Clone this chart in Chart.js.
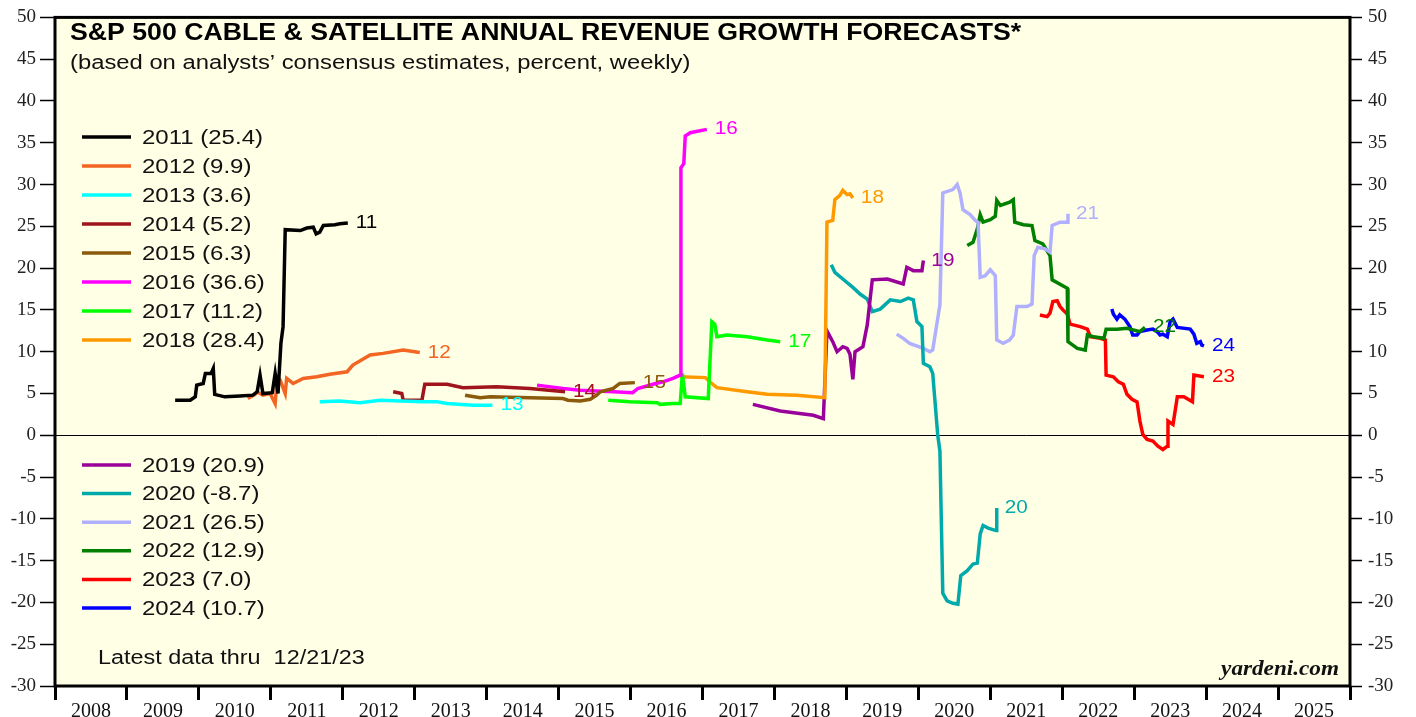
<!DOCTYPE html>
<html>
<head>
<meta charset="utf-8">
<title>S&amp;P 500 Cable &amp; Satellite Revenue Growth Forecasts</title>
<script src="https://cdn.jsdelivr.net/npm/chart.js@4.4.1/dist/chart.umd.min.js"></script>
<style>
  body { margin: 0; background: #fff; }
  #wrap { width: 1416px; height: 717px; }
</style>
</head>
<body>
<div id="wrap"><canvas id="myChart" width="1416" height="717"></canvas></div>
<script>
'use strict';

// forecast years, final values (legend) and colours
let seriesNames = ['2011', '2012', '2013', '2014', '2015', '2016', '2017', '2018', '2019', '2020', '2021', '2022', '2023', '2024'];
let finalValues = ['25.4', '9.9', '3.6', '5.2', '6.3', '36.6', '11.2', '28.4', '20.9', '-8.7', '26.5', '12.9', '7.0', '10.7'];
let seriesColors = ['#000000', '#F26522', '#00FFFF', '#A0151C', '#8B5A0B', '#FF00FF', '#00FF00', '#FF9900', '#990099', '#00AAAA', '#B0B0FF', '#008000', '#FF0000', '#0000FF'];

// y axis tick labels
let yTicks = [50, 45, 40, 35, 30, 25, 20, 15, 10, 5, 0, -5, -10, -15, -20, -25, -30];
// x axis: years shown
let firstYear = 2008;
let lastYear = 2026;

// weekly consensus forecasts, [time in years, percent]
let rev2011 = [[2009.67, 4.2], [2009.88, 4.2], [2009.95, 4.6], [2009.97, 6.0], [2010.06, 6.2], [2010.09, 7.4], [2010.17, 7.4], [2010.20, 8.0], [2010.22, 4.9], [2010.36, 4.6], [2010.57, 4.7], [2010.75, 4.8], [2010.81, 5.2], [2010.85, 7.2], [2010.89, 5.0], [2011.02, 5.1], [2011.06, 7.4], [2011.10, 5.0], [2011.14, 11.0], [2011.17, 13.0], [2011.20, 24.6], [2011.41, 24.5], [2011.50, 24.8], [2011.59, 24.9], [2011.63, 24.1], [2011.68, 24.3], [2011.73, 25.1], [2011.89, 25.2], [2011.96, 25.3], [2012.07, 25.4]];
let rev2012 = [[2010.68, 4.4], [2010.78, 4.9], [2010.81, 5.2], [2010.89, 4.8], [2010.99, 5.0], [2011.06, 3.8], [2011.09, 7.0], [2011.13, 6.6], [2011.20, 5.0], [2011.22, 6.8], [2011.31, 6.2], [2011.45, 6.8], [2011.64, 7.0], [2011.82, 7.3], [2012.06, 7.6], [2012.14, 8.4], [2012.38, 9.6], [2012.56, 9.8], [2012.84, 10.2], [2013.07, 9.9]];
let rev2013 = [[2011.68, 4.0], [2011.96, 4.1], [2012.24, 3.9], [2012.52, 4.2], [2012.80, 4.1], [2013.12, 4.0], [2013.31, 4.0], [2013.45, 3.8], [2013.81, 3.6], [2014.08, 3.6]];
let rev2014 = [[2012.70, 5.2], [2012.82, 5.0], [2012.84, 4.2], [2013.10, 4.2], [2013.14, 6.1], [2013.45, 6.1], [2013.67, 5.7], [2014.14, 5.8], [2014.60, 5.6], [2015.09, 5.2]];
let rev2015 = [[2013.70, 4.8], [2013.91, 4.5], [2014.05, 4.6], [2014.60, 4.5], [2015.06, 4.4], [2015.13, 4.2], [2015.30, 4.1], [2015.44, 4.3], [2015.53, 4.8], [2015.58, 5.2], [2015.76, 5.6], [2015.85, 6.2], [2016.06, 6.3]];
let rev2016 = [[2014.70, 6.0], [2015.06, 5.6], [2015.30, 5.4], [2015.76, 5.2], [2016.03, 5.1], [2016.10, 5.6], [2016.31, 6.1], [2016.45, 6.4], [2016.59, 6.8], [2016.69, 7.2], [2016.70, 32.0], [2016.74, 32.5], [2016.76, 35.8], [2016.83, 36.2], [2017.06, 36.6]];
let rev2017 = [[2015.69, 4.2], [2015.99, 4.0], [2016.37, 3.9], [2016.41, 3.7], [2016.59, 3.8], [2016.69, 3.8], [2016.72, 7.4], [2016.76, 4.6], [2017.08, 4.4], [2017.13, 13.6], [2017.17, 13.3], [2017.20, 11.8], [2017.34, 12.0], [2017.62, 11.8], [2017.90, 11.4], [2018.08, 11.2]];
let rev2018 = [[2016.69, 7.0], [2017.04, 6.9], [2017.10, 6.4], [2017.20, 5.7], [2017.62, 5.2], [2017.90, 4.9], [2018.31, 4.8], [2018.70, 4.5], [2018.73, 25.5], [2018.81, 25.7], [2018.84, 28.2], [2018.91, 28.7], [2018.95, 29.3], [2019.01, 28.8], [2019.05, 28.9], [2019.09, 28.4]];
let rev2019 = [[2017.70, 3.7], [2018.08, 2.9], [2018.54, 2.4], [2018.68, 2.0], [2018.73, 12.5], [2018.81, 11.2], [2018.87, 10.0], [2018.95, 10.6], [2019.01, 10.4], [2019.05, 9.7], [2019.09, 6.7], [2019.12, 10.0], [2019.23, 10.6], [2019.29, 13.2], [2019.36, 18.6], [2019.57, 18.7], [2019.79, 18.1], [2019.84, 20.1], [2019.93, 19.7], [2020.05, 19.7], [2020.07, 20.9]];
let rev2020 = [[2018.79, 20.4], [2018.84, 19.5], [2018.95, 18.7], [2019.09, 17.7], [2019.19, 16.9], [2019.29, 16.3], [2019.36, 14.8], [2019.47, 15.1], [2019.61, 16.2], [2019.75, 16.0], [2019.86, 16.4], [2019.93, 16.2], [2019.98, 13.6], [2020.05, 13.0], [2020.07, 8.6], [2020.16, 8.2], [2020.20, 7.4], [2020.27, 0.0], [2020.30, -1.9], [2020.34, -18.9], [2020.40, -19.8], [2020.48, -20.1], [2020.55, -20.2], [2020.59, -16.8], [2020.68, -16.2], [2020.76, -15.4], [2020.82, -15.3], [2020.86, -11.8], [2020.90, -10.8], [2020.97, -11.1], [2021.08, -11.4], [2021.09, -8.7]];
let rev2021 = [[2019.70, 12.1], [2019.79, 11.6], [2019.88, 11.0], [2020.07, 10.4], [2020.16, 10.0], [2020.20, 10.2], [2020.30, 15.6], [2020.34, 29.0], [2020.48, 29.4], [2020.54, 30.0], [2020.58, 29.0], [2020.62, 27.0], [2020.72, 26.4], [2020.79, 25.7], [2020.83, 25.5], [2020.86, 18.9], [2020.93, 19.1], [2021.00, 19.8], [2021.07, 19.1], [2021.09, 11.4], [2021.18, 11.0], [2021.27, 11.4], [2021.32, 12.0], [2021.37, 15.4], [2021.51, 15.4], [2021.58, 15.7], [2021.61, 21.5], [2021.66, 22.5], [2021.76, 22.3], [2021.83, 21.9], [2021.86, 25.1], [2021.97, 25.5], [2022.07, 25.5], [2022.08, 26.5]];
let rev2022 = [[2020.68, 22.7], [2020.76, 23.1], [2020.82, 24.7], [2020.86, 26.4], [2020.90, 25.5], [2021.00, 25.8], [2021.07, 26.2], [2021.09, 28.1], [2021.14, 27.5], [2021.27, 27.9], [2021.32, 28.2], [2021.34, 25.5], [2021.46, 25.2], [2021.58, 25.1], [2021.62, 23.3], [2021.73, 22.9], [2021.83, 21.5], [2021.86, 18.6], [2022.07, 17.6], [2022.08, 11.2], [2022.21, 10.4], [2022.32, 10.2], [2022.35, 12.0], [2022.43, 11.8], [2022.58, 11.6], [2022.61, 12.7], [2022.76, 12.7], [2022.90, 12.8], [2023.08, 12.4], [2023.15, 12.9]];
let rev2023 = [[2021.69, 14.4], [2021.79, 14.2], [2021.83, 14.6], [2021.87, 16.0], [2021.93, 16.1], [2021.97, 15.4], [2022.01, 15.0], [2022.07, 14.5], [2022.11, 13.3], [2022.25, 13.0], [2022.35, 12.7], [2022.39, 11.8], [2022.53, 11.6], [2022.60, 11.4], [2022.61, 7.2], [2022.71, 7.0], [2022.78, 6.4], [2022.85, 6.1], [2022.90, 4.9], [2022.97, 4.3], [2023.04, 4.0], [2023.08, 1.7], [2023.12, 0.1], [2023.18, -0.5], [2023.26, -0.7], [2023.33, -1.3], [2023.40, -1.7], [2023.46, -1.3], [2023.47, 1.7], [2023.54, 1.3], [2023.60, 4.6], [2023.69, 4.6], [2023.81, 4.0], [2023.83, 7.2], [2023.97, 7.0]];
let rev2024 = [[2022.69, 15.1], [2022.71, 14.5], [2022.76, 13.9], [2022.80, 14.4], [2022.87, 13.9], [2022.94, 13.0], [2022.98, 12.0], [2023.04, 12.0], [2023.08, 12.4], [2023.18, 12.6], [2023.26, 12.7], [2023.32, 12.4], [2023.36, 12.0], [2023.40, 12.1], [2023.46, 11.8], [2023.50, 13.6], [2023.54, 13.9], [2023.60, 12.9], [2023.78, 12.7], [2023.83, 12.1], [2023.87, 11.0], [2023.92, 11.2], [2023.94, 10.8], [2023.97, 10.7]];

let allSeries = [rev2011, rev2012, rev2013, rev2014, rev2015, rev2016, rev2017, rev2018, rev2019, rev2020, rev2021, rev2022, rev2023, rev2024];

const SANS = '"Liberation Sans", Arial, sans-serif';
const SERIF = '"Liberation Serif", "Times New Roman", serif';

let ctx = document.getElementById('myChart').getContext('2d');

let datasets = [];
for (let i = 0; i < allSeries.length; i++) {
  datasets.push({
    label: seriesNames[i],
    data: allSeries[i].map(p => ({ x: p[0], y: p[1] })),
    borderColor: seriesColors[i],
    borderWidth: 3.5,
    pointRadius: 0,
    tension: 0,
    fill: false
  });
}

// the original lettering is a bit wider than Arial, so stretch it sideways
function wideText(c, text, x, y, sx) {
  c.save();
  c.translate(x, y);
  c.scale(sx, 1);
  c.fillText(text, 0, 0);
  c.restore();
}

// yellow plot background
let bgPlugin = {
  id: 'bgPlugin',
  beforeDraw(chart) {
    let a = chart.chartArea;
    let c = chart.ctx;
    c.save();
    c.fillStyle = '#FFFFE6';
    c.fillRect(a.left, a.top, a.right - a.left, a.bottom - a.top);
    c.restore();
  }
};

// frame, end labels, legend and notes
let overlayPlugin = {
  id: 'overlayPlugin',
  afterDraw(chart) {
    let a = chart.chartArea;
    let c = chart.ctx;
    let xs = chart.scales.x;
    let ys = chart.scales.y;
    c.save();

    // labels at the end of each line
    c.font = '18px ' + SANS;
    c.textBaseline = 'middle';
    c.textAlign = 'left';
    for (let i = 0; i < allSeries.length; i++) {
      let last = allSeries[i][allSeries[i].length - 1];
      c.fillStyle = seriesColors[i];
      wideText(c, seriesNames[i].slice(2), xs.getPixelForValue(last[0]) + 8, ys.getPixelForValue(last[1]), 1.15);
    }

    // frame
    c.strokeStyle = '#000';
    c.lineWidth = 3;
    c.strokeRect(a.left, a.top, a.right - a.left, a.bottom - a.top);

    // legend, two groups
    c.font = '20px ' + SANS;
    for (let i = 0; i < seriesNames.length; i++) {
      let y = i < 8 ? 137 + i * 29 : 465 + (i - 8) * 28.6;
      c.strokeStyle = seriesColors[i];
      c.lineWidth = 3.5;
      c.beginPath();
      c.moveTo(82, y);
      c.lineTo(131, y);
      c.stroke();
      c.fillStyle = '#111';
      wideText(c, seriesNames[i] + ' (' + finalValues[i] + ')', 142, y + 1, 1.2);
    }

    // title and notes
    c.fillStyle = '#000';
    c.font = 'bold 23px ' + SANS;
    wideText(c, 'S&P 500 CABLE & SATELLITE ANNUAL REVENUE GROWTH FORECASTS*', 70, 34, 1.16);
    c.fillStyle = '#111';
    c.font = '20px ' + SANS;
    wideText(c, '(based on analysts\u2019 consensus estimates, percent, weekly)', 70, 63, 1.19);
    wideText(c, 'Latest data thru  12/21/23', 98, 658, 1.17);
    c.font = 'italic bold 20px ' + SERIF;
    c.textAlign = 'right';
    wideText(c, 'yardeni.com', 1339, 670, 1.16);

    c.restore();
  }
};

let myChartObj = {
  type: 'line',
  data: { datasets: datasets },
  options: {
    responsive: false,
    animation: false,
    layout: { padding: { top: 14, left: 0, right: 0, bottom: 0 } },
    plugins: {
      legend: { display: false },
      tooltip: { enabled: false }
    },
    scales: {
      x: {
        type: 'linear',
        min: firstYear,
        max: lastYear,
        afterBuildTicks: function (scale) {
          let t = [];
          for (let yr = firstYear; yr <= lastYear; yr++) {
            t.push({ value: yr });
            if (yr < lastYear) {
              t.push({ value: yr + 0.5 });
            }
          }
          scale.ticks = t;
        },
        afterFit: function (scale) { scale.height = 31; },
        border: { display: false },
        grid: {
          drawOnChartArea: false,
          tickLength: 14,
          tickWidth: 3,
          tickColor: function (c) { return c.tick && c.tick.value % 1 === 0 ? '#000' : 'rgba(0,0,0,0)'; }
        },
        ticks: {
          autoSkip: false,
          maxRotation: 0,
          padding: 0,
          color: '#111',
          font: { family: SERIF, size: 20 },
          callback: function (v) { return v % 1 !== 0 ? String(Math.floor(v)) : ''; }
        }
      },
      y: {
        position: 'left',
        min: -30,
        max: 50,
        afterBuildTicks: function (scale) { scale.ticks = yTicks.map(v => ({ value: v })); },
        afterFit: function (scale) { scale.width = 55; },
        border: { display: false },
        grid: {
          color: function (c) { return c.tick && c.tick.value === 0 ? '#000' : 'rgba(0,0,0,0)'; },
          lineWidth: 1,
          tickLength: 15,
          tickWidth: 1.5,
          tickColor: '#000'
        },
        ticks: {
          padding: 4,
          color: '#222',
          font: { family: SERIF, size: 19 }
        }
      },
      y1: {
        position: 'right',
        min: -30,
        max: 50,
        afterBuildTicks: function (scale) { scale.ticks = yTicks.map(v => ({ value: v })); },
        afterFit: function (scale) { scale.width = 66; },
        border: { display: false },
        grid: {
          drawOnChartArea: false,
          tickLength: 12,
          tickWidth: 1.5,
          tickColor: '#000'
        },
        ticks: {
          padding: 6,
          color: '#222',
          font: { family: SERIF, size: 19 }
        }
      }
    }
  },
  plugins: [bgPlugin, overlayPlugin]
};

const myChart = new Chart(ctx, myChartObj);
</script>
</body>
</html>
